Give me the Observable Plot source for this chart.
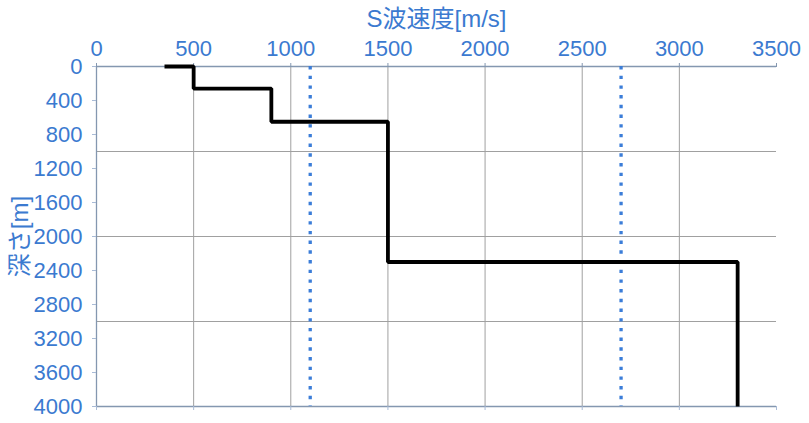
<!DOCTYPE html>
<html>
<head>
<meta charset="utf-8">
<script src="https://cdn.jsdelivr.net/npm/d3@7"></script>
<script src="https://cdn.jsdelivr.net/npm/@observablehq/plot@0.6"></script>
<style>
  html, body { margin: 0; padding: 0; background: #fff; }
  #chart svg { display: block; }
</style>
</head>
<body>
<div id="chart"></div>
<script>
// S-wave velocity layers (m/s) and depth of each layer's top/bottom (m)
const layerVelocity = [350, 500, 900, 1500, 3300];
const layerTop      = [0, 0, 260, 650, 2300];
const layerBottom   = [0, 260, 650, 2300, 4000];
// reference (dotted) velocities
const refVelocity = [1100, 2700];
// ticks / grid
const xTicks = [0, 500, 1000, 1500, 2000, 2500, 3000, 3500];
const yTicks = [0, 400, 800, 1200, 1600, 2000, 2400, 2800, 3200, 3600, 4000];
const xGrid = [500, 1000, 1500, 2000, 2500, 3000];
const yGrid = [1000, 2000, 3000];
const xTitle = "S波速度[m/s]";
const yTitle = "深さ[m]";

const profile = [];
layerVelocity.forEach((v, i) => {
  profile.push({v, d: layerTop[i]});
  profile.push({v, d: layerBottom[i]});
});

const blue = "#3b7ad0";
const axisColor = "#8497b0";
const gridColor = "#a0a0a0";
const font = "'Liberation Sans', 'Noto Sans CJK JP', sans-serif";
const plain = d => String(d);

const chart = Plot.plot({
  width: 809,
  height: 423,
  marginTop: 66,
  marginLeft: 96,
  marginRight: 33,
  marginBottom: 17,
  style: {fontFamily: font, background: "#fff"},
  x: {domain: [0, 3500]},
  y: {domain: [0, 4000], reverse: true},
  marks: [
    Plot.ruleX(xGrid, {stroke: gridColor, strokeWidth: 1}),
    Plot.ruleY(yGrid, {stroke: gridColor, strokeWidth: 1}),
    Plot.ruleY([0, 4000], {stroke: axisColor, strokeWidth: 1.3}),
    Plot.ruleX([0], {stroke: axisColor, strokeWidth: 1.3}),
    Plot.axisX(xTicks, {anchor: "top", tickSize: 4, tickPadding: 7, stroke: axisColor, fill: blue, fontSize: 22, tickFormat: plain, label: null}),
    Plot.axisX(xTicks, {anchor: "bottom", tickSize: 4, stroke: "#a9bbd6", fill: "none", label: null}),
    Plot.axisY(yTicks, {anchor: "left", tickSize: 4, tickPadding: 10, stroke: "#a9bbd6", fill: blue, fontSize: 22, tickFormat: plain, label: null}),
    Plot.ruleX(refVelocity, {stroke: "#3b7dd8", strokeWidth: 3.3, strokeDasharray: "3.4 6.3"}),
    Plot.line(profile, {x: "v", y: "d", stroke: "#000", strokeWidth: 3.8, strokeLinejoin: "miter", strokeLinecap: "butt", curve: "linear"}),
    Plot.text([xTitle], {frameAnchor: "top", dy: -47, text: d => d, fill: blue, fontSize: 24, lineAnchor: "middle"}),
    Plot.text([yTitle], {frameAnchor: "left", dx: -76, text: d => d, fill: blue, fontSize: 24, rotate: -90, textAnchor: "middle", lineAnchor: "middle"})
  ]
});
document.getElementById("chart").appendChild(chart);
</script>
</body>
</html>
